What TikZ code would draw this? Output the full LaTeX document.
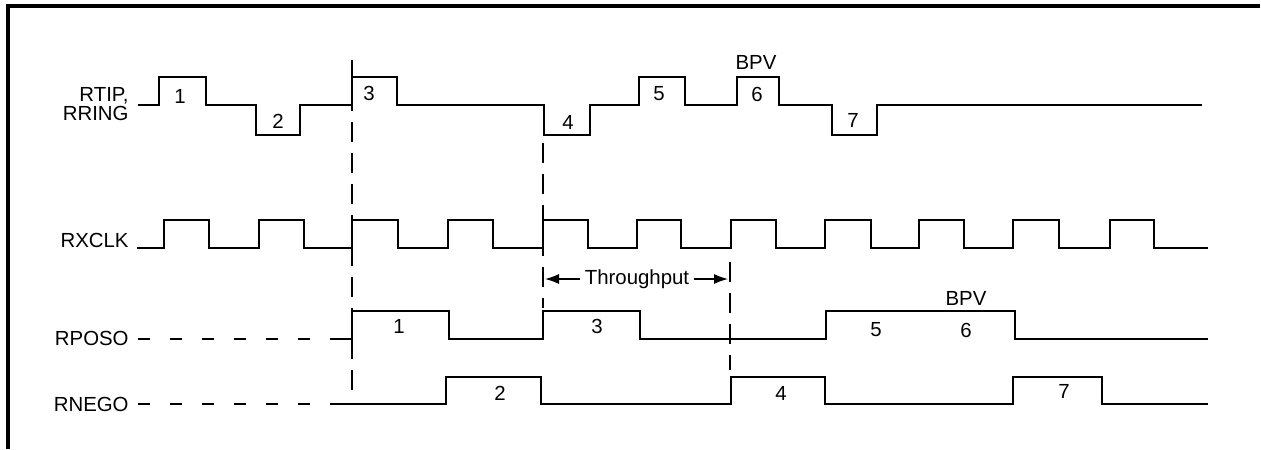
\documentclass[tikz,border=0pt]{standalone}
\usepackage{fontspec}
\setmainfont{Liberation Sans}
\usetikzlibrary{arrows.meta}
\begin{document}
\begin{tikzpicture}[x=0.5pt, y=-0.5pt,
    wave/.style={line width=1.4pt},
    guide/.style={line width=0.9pt, dash pattern=on 10pt off 5.5pt},
    lead/.style={line width=1.1pt, dash pattern=on 6pt off 10pt},
    sig/.style={anchor=east, align=right, inner sep=0pt, font=\fontsize{10.2}{9.6}\selectfont},
    num/.style={font=\fontsize{10.2}{10}\selectfont}]
      \useasboundingbox (0, 0) rectangle (1261, 449);
      % frame
      \draw[line width=1.6pt] (8, 449) -- (8, 6) -- (1260, 6);
      % signal names
      \node (rtip) [sig] at (129, 104) {RTIP,\\RRING};
      \node (rxclk) [sig] at (129, 240) {RXCLK};
      \node (rposo) [sig] at (129, 338) {RPOSO};
      \node (rnego) [sig] at (129, 404) {RNEGO};
      % RTIP, RRING
      \draw[wave] (138, 105) -| (159, 77) -| (206, 105) -| (256, 135) -| (300, 105)
            -| (352, 77) -| (397, 105) -| (544, 135) -| (590, 105) -| (639, 77)
            -| (685, 105) -| (737, 77) -| (779, 105) -| (832, 135) -| (877, 105)
            -- (1202, 105);
      \node (p1) [num] at (180, 96) {1};
      \node (p2) [num] at (278, 121) {2};
      \node (p3) [num] at (369, 93) {3};
      \node (p4) [num] at (568, 122) {4};
      \node (p5) [num] at (659, 94) {5};
      \node (p6) [num] at (757, 94) {6};
      \node (p7) [num] at (853, 120) {7};
      \node (bpv1) [num] at (756, 62) {BPV};
      % RXCLK
      \draw[wave] (137, 248) -| (164, 220) -| (209, 248) -| (259, 220) -| (304, 248)
            -| (352, 220) -| (398, 248) -| (448, 220) -| (493, 248) -| (543, 220)
            -| (588, 248) -| (637, 220) -| (681, 248) -| (731, 220) -| (776, 248)
            -| (825, 220) -| (871, 248) -| (919, 220) -| (964, 248) -| (1013, 220)
            -| (1059, 248) -| (1110, 220) -| (1154, 248) -- (1208, 248);
      % RPOSO
      \draw[lead] (138, 339) -- (332, 339);
      \draw[wave] (332, 339) -| (352, 311) -| (449, 339) -| (543, 311) -| (640, 339)
            -| (826, 311) -| (1015, 339) -- (1208, 339);
      \node (q1) [num] at (399, 326) {1};
      \node (q3) [num] at (597, 326) {3};
      \node (q5) [num] at (876, 330) {5};
      \node (q6) [num] at (966, 330) {6};
      \node (bpv2) [num] at (966, 298) {BPV};
      % RNEGO
      \draw[lead] (138, 404) -- (332, 404);
      \draw[wave] (332, 404) -| (446, 377) -| (541, 404) -| (731, 377) -| (825, 404)
            -| (1013, 377) -| (1102, 404) -- (1208, 404);
      \node (n2) [num] at (500, 393) {2};
      \node (n4) [num] at (781, 393) {4};
      \node (n7) [num] at (1064, 391) {7};
      % guides
      \draw[guide] (352, 60) -- (352, 392);
      \draw[guide] (543, 143) -- (543, 308);
      \draw[guide] (730, 262) -- (730, 370);
      % throughput
      \coordinate (tl) at (545, 279);
      \coordinate (tr) at (728, 279);
      \node (thru) [num, inner sep=2pt] at (637, 279) {Throughput};
      \draw[line width=0.6pt, -{Latex[length=7pt, width=5pt]}] (thru) -- (tl);
      \draw[line width=0.6pt, -{Latex[length=7pt, width=5pt]}] (thru) -- (tr);
\end{tikzpicture}
\end{document}
